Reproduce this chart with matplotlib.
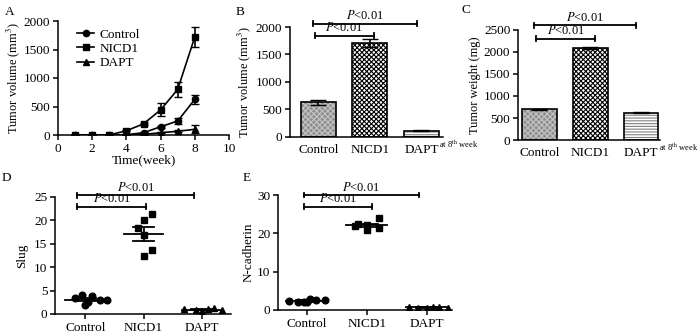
import numpy as np
import matplotlib
matplotlib.use("Agg")
import matplotlib.pyplot as plt

plt.rcParams['font.family'] = 'Liberation Serif'
plt.rcParams['mathtext.fontset'] = 'stix'
plt.rcParams['hatch.linewidth'] = 0.8
plt.rcParams['axes.linewidth'] = 1.1
plt.rcParams['xtick.major.width'] = 1.1
plt.rcParams['ytick.major.width'] = 1.1
plt.rcParams['xtick.major.size'] = 3.5
plt.rcParams['ytick.major.size'] = 3.5

# ---- data ----
groups = ['Control', 'NICD1', 'DAPT']

# A: tumor growth curves
weeks = [1, 2, 3, 4, 5, 6, 7, 8]
ctrl_vol = [0, 0, 0, 5, 40, 145, 245, 625]
ctrl_err = [0, 0, 0, 5, 10, 20, 45, 80]
nicd_vol = [0, 0, 0, 75, 195, 440, 800, 1720]
nicd_err = [0, 0, 0, 10, 20, 115, 125, 170]
dapt_vol = [0, 0, 0, 0, 10, 40, 65, 100]
dapt_err = [0, 0, 0, 0, 5, 10, 20, 70]

# B: tumor volume at 8th week
vol8 = [630, 1710, 110]
vol8_err = [45, 70, 10]

# C: tumor weight
weight = [700, 2090, 620]
weight_err = [15, 20, 10]

# D: Slug
slug_ctrl = [4.0, 3.8, 3.4, 2.9, 2.6, 1.9, 2.9]
slug_ctrl_dx = [-0.05, 0.12, -0.18, 0.25, 0.05, 0.0, 0.38]
slug_nicd = [21.4, 20.1, 18.4, 16.9, 13.7, 12.4]
slug_nicd_dx = [0.14, 0.0, -0.1, 0.0, 0.14, 0.0]
slug_dapt = [1.1, 0.9, 0.6, 1.0, 1.2, 0.8]
slug_dapt_dx = [-0.3, -0.1, 0.0, 0.1, 0.2, 0.35]

# E: N-cadherin
ncad_ctrl = [2.4, 2.0, 2.2, 2.8, 2.6, 2.1, 2.5]
ncad_ctrl_dx = [-0.3, -0.15, -0.05, 0.05, 0.15, 0.0, 0.3]
ncad_nicd = [24.0, 22.4, 22.2, 20.8, 21.4, 21.9]
ncad_nicd_dx = [0.2, -0.15, 0.0, 0.0, 0.2, -0.2]
ncad_dapt = [0.8, 0.6, 0.5, 0.7, 0.9, 0.6]
ncad_dapt_dx = [-0.3, -0.15, 0.0, 0.1, 0.2, 0.35]

fig = plt.figure(figsize=(7, 3.33), dpi=100)


def px_axes(x0, y0, x1, y1):
    ax = fig.add_axes([x0 / 700, 1 - y1 / 333, (x1 - x0) / 700, (y1 - y0) / 333])
    ax.spines['top'].set_visible(False)
    ax.spines['right'].set_visible(False)
    ax.tick_params(labelsize=9.5, pad=2)
    return ax


def sig_bar(ax, x0, x1, y, h):
    ax.plot([x0, x1], [y, y], color='black', lw=1.3, clip_on=False)
    for x in (x0, x1):
        ax.plot([x, x], [y - h, y + h], color='black', lw=1.3, clip_on=False)
    ax.text((x0 + x1) / 2, y + h * 0.6, r'$\mathit{P}$<0.01', ha='center', va='bottom',
            fontsize=9, clip_on=False)


def at_week(ax):
    ax.annotate(r'at 8$^{\rm th}$ week', xy=(2, 0), xycoords=('data', 'axes fraction'),
                xytext=(18, -1), textcoords='offset pixels', ha='left', va='top', fontsize=6)


# ---- A ----
axA = px_axes(58, 21, 229, 135)
axA.errorbar(weeks, ctrl_vol, yerr=ctrl_err, color='black', marker='o', ms=4.5, lw=1.2, capsize=3, label='Control')
axA.errorbar(weeks, nicd_vol, yerr=nicd_err, color='black', marker='s', ms=4.5, lw=1.2, capsize=3, label='NICD1')
axA.errorbar(weeks, dapt_vol, yerr=dapt_err, color='black', marker='^', ms=4.5, lw=1.2, capsize=3, label='DAPT')
axA.set_xlim(0, 10)
axA.set_ylim(0, 2000)
axA.set_xticks([0, 2, 4, 6, 8, 10])
axA.set_yticks([0, 500, 1000, 1500, 2000])
axA.set_xlabel('Time(week)', fontsize=9.5, labelpad=0)
axA.set_ylabel(r'Tumor volume (mm$^3$)', fontsize=9, labelpad=1)
handles, labels = axA.get_legend_handles_labels()
axA.legend([h[0] for h in handles], labels, loc='upper left', bbox_to_anchor=(0.08, 0.98),
           frameon=False, fontsize=9.5, handlelength=1.3, labelspacing=0.15, handletextpad=0.4,
           borderaxespad=0)

# ---- B ----
hatches = ['xxxxxx', 'xxxxxxx', '------']
faces = ['#8e8e8e', 'white', 'white']
hcolors = ['#c4c4c4', 'black', '#808080']
axB = px_axes(290, 27, 443, 137)
for i in range(3):
    axB.bar(i, vol8[i], width=0.68, facecolor=faces[i], edgecolor=hcolors[i], hatch=hatches[i], lw=0)
    axB.bar(i, vol8[i], width=0.68, facecolor='none', edgecolor='black', lw=1.2)
axB.errorbar(range(3), vol8, yerr=vol8_err, fmt='none', ecolor='black', capsize=6, lw=1.2)
axB.set_xlim(-0.55, 2.42)
axB.set_ylim(0, 2000)
axB.set_yticks([0, 500, 1000, 1500, 2000])
axB.set_xticks(range(3))
axB.set_xticklabels(groups)
axB.tick_params(axis='x', length=0, pad=5)
axB.set_ylabel(r'Tumor volume (mm$^3$)', fontsize=9, labelpad=2)
sig_bar(axB, -0.1, 1.91, 2060, 45)
sig_bar(axB, -0.07, 1.08, 1840, 45)
at_week(axB)

# ---- C ----
axC = px_axes(518, 30, 660, 140)
for i in range(3):
    axC.bar(i, weight[i], width=0.68, facecolor=faces[i], edgecolor=hcolors[i], hatch=hatches[i], lw=0)
    axC.bar(i, weight[i], width=0.68, facecolor='none', edgecolor='black', lw=1.2)
axC.errorbar(range(3), weight, yerr=weight_err, fmt='none', ecolor='black', capsize=6, lw=1.2)
axC.set_xlim(-0.42, 2.37)
axC.set_ylim(0, 2500)
axC.set_yticks([0, 500, 1000, 1500, 2000, 2500])
axC.set_xticks(range(3))
axC.set_xticklabels(groups)
axC.tick_params(axis='x', length=0, pad=5)
axC.set_ylabel('Tumor weight (mg)', fontsize=9, labelpad=2)
sig_bar(axC, -0.1, 1.9, 2610, 55)
sig_bar(axC, -0.07, 1.1, 2300, 55)
at_week(axC)


def scatter_panel(ax, sets, ymax):
    markers = ['o', 's', '^']
    for i, (vals, dx) in enumerate(sets):
        vals = np.array(vals)
        ax.plot(i + np.array(dx), vals, linestyle='none', marker=markers[i], color='black', ms=4.8)
        m = vals.mean()
        sem = vals.std(ddof=1) / np.sqrt(len(vals))
        ax.plot([i - 0.34, i + 0.34], [m, m], color='black', lw=1.3)
        ax.plot([i, i], [m - sem, m + sem], color='black', lw=1.3)
        ax.plot([i - 0.18, i + 0.18], [m + sem, m + sem], color='black', lw=1.3)
        ax.plot([i - 0.18, i + 0.18], [m - sem, m - sem], color='black', lw=1.3)
    ax.set_ylim(0, ymax)
    ax.set_xticks(range(3))
    ax.set_xticklabels(groups)


# ---- D ----
axD = px_axes(55, 197, 231, 314)
scatter_panel(axD, [(slug_ctrl, slug_ctrl_dx), (slug_nicd, slug_nicd_dx), (slug_dapt, slug_dapt_dx)], 25)
axD.set_xlim(-0.52, 2.5)
axD.set_yticks([0, 5, 10, 15, 20, 25])
axD.set_ylabel('Slug', fontsize=9.5, labelpad=4)
sig_bar(axD, -0.14, 1.86, 25.4, 0.55)
sig_bar(axD, -0.14, 1.05, 22.9, 0.55)

# ---- E ----
axE = px_axes(278, 195, 452, 310)
scatter_panel(axE, [(ncad_ctrl, ncad_ctrl_dx), (ncad_nicd, ncad_nicd_dx), (ncad_dapt, ncad_dapt_dx)], 30)
axE.set_xlim(-0.48, 2.42)
axE.set_yticks([0, 10, 20, 30])
axE.set_ylabel('N-cadherin', fontsize=9.5, labelpad=2)
sig_bar(axE, -0.05, 1.87, 30.0, 0.65)
sig_bar(axE, -0.05, 1.08, 26.9, 0.65)

# panel letters
for lab, x, y in [('A', 5, 12), ('B', 236, 12), ('C', 462, 10), ('D', 2, 178), ('E', 243, 178)]:
    fig.text(x / 700, 1 - y / 333, lab, fontsize=9.5, ha='left', va='center')

fig.savefig('out.png', dpi=100)
